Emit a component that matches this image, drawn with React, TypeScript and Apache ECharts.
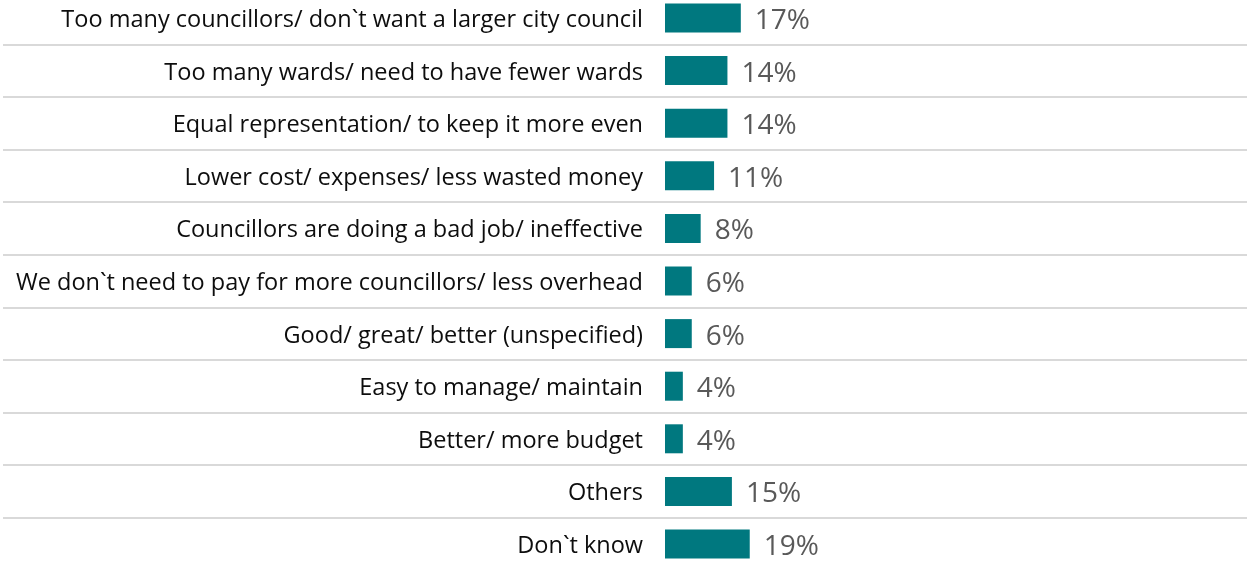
import React, { useEffect, useRef } from "react";
import * as echarts from "echarts";

const categories: string[] = [
  "Too many councillors/ don`t want a larger city council",
  "Too many wards/ need to have fewer wards",
  "Equal representation/ to keep it more even",
  "Lower cost/ expenses/ less wasted money",
  "Councillors are doing a bad job/ ineffective",
  "We don`t need to pay for more councillors/ less overhead",
  "Good/ great/ better (unspecified)",
  "Easy to manage/ maintain",
  "Better/ more budget",
  "Others",
  "Don`t know",
];

const values: number[] = [17, 14, 14, 11, 8, 6, 6, 4, 4, 15, 19];

export default function App() {
  const ref = useRef<HTMLDivElement>(null);
  useEffect(() => {
    if (!ref.current) return;
    const chart = echarts.init(ref.current, undefined, { renderer: "svg" });
    chart.setOption({
      animation: false,
      grid: [
        {
          left: 665,
          width: 446,
          top: -8.3,
          height: 578.6,
          containLabel: false,
          outerBoundsMode: "none",
        },
        {
          left: 3,
          right: 0,
          top: -8.3,
          height: 578.6,
          containLabel: false,
          outerBoundsMode: "none",
        },
      ],
      xAxis: [
        { type: "value", gridIndex: 0, min: 0, max: 100, show: false },
        { type: "value", gridIndex: 1, min: 0, max: 1, show: false },
      ],
      yAxis: [
        {
          type: "category",
          gridIndex: 0,
          inverse: true,
          data: categories,
          axisLine: { show: false },
          axisTick: { show: false },
          axisLabel: {
            margin: 22,
            color: "#0d0d0d",
            fontFamily: "'Open Sans', sans-serif",
            fontSize: 23.5,
          },
          splitLine: { show: false },
        },
        {
          type: "category",
          gridIndex: 1,
          inverse: true,
          data: categories,
          axisLine: { show: false },
          axisTick: { show: false },
          axisLabel: { show: false },
          splitLine: { show: true, lineStyle: { color: "#d9d9d9", width: 2 } },
        },
      ],
      series: [
        {
          type: "bar",
          xAxisIndex: 0,
          yAxisIndex: 0,
          data: values,
          barWidth: 29,
          itemStyle: { color: "#00787f" },
          label: {
            show: true,
            position: "right",
            distance: 14,
            formatter: "{c}%",
            color: "#595959",
            fontFamily: "'Open Sans', sans-serif",
            fontSize: 28,
          },
        },
      ],
    });
    return () => chart.dispose();
  }, []);
  return (
    <div
      ref={ref}
      style={{ position: "fixed", left: 0, top: 0, width: 1247, height: 566 }}
    />
  );
}
